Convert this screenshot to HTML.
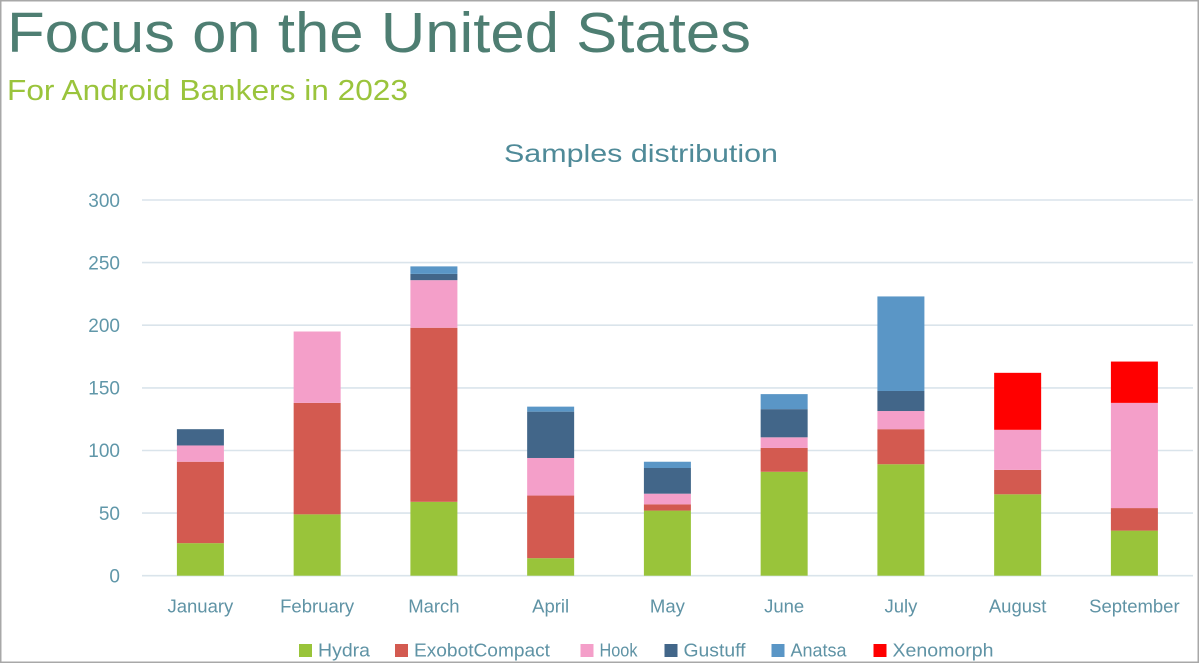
<!DOCTYPE html>
<html>
<head>
<meta charset="utf-8">
<style>
html,body{margin:0;padding:0;background:#fff;}
body{width:1200px;height:664px;overflow:hidden;position:relative;}
svg{display:block;}
</style>
</head>
<body>
<svg width="1200" height="664" viewBox="0 0 1200 664" xmlns="http://www.w3.org/2000/svg" font-family="Liberation Sans, DejaVu Sans, sans-serif">
  <rect x="0" y="0" width="1200" height="664" fill="#fff"/>
  <!-- border -->
  <rect x="0.75" y="0.75" width="1197.5" height="661.5" fill="none" stroke="#a8a8a8" stroke-width="1.5"/>

  <!-- titles -->
  <text x="7" y="52" font-size="57" fill="#4e7e72" textLength="744" lengthAdjust="spacingAndGlyphs">Focus on the United States</text>
  <text x="7" y="100" font-size="29" fill="#9ac43c" textLength="401" lengthAdjust="spacingAndGlyphs">For Android Bankers in 2023</text>
  <text x="641" y="162" font-size="25" fill="#4f8a98" text-anchor="middle" textLength="274" lengthAdjust="spacingAndGlyphs">Samples distribution</text>

  <!-- gridlines -->
  <g stroke="#dae4eb" stroke-width="1.6">
    <line x1="142" y1="200" x2="1193" y2="200"/>
    <line x1="142" y1="262.6" x2="1193" y2="262.6"/>
    <line x1="142" y1="325.2" x2="1193" y2="325.2"/>
    <line x1="142" y1="387.9" x2="1193" y2="387.9"/>
    <line x1="142" y1="450.5" x2="1193" y2="450.5"/>
    <line x1="142" y1="513.1" x2="1193" y2="513.1"/>
    <line x1="142" y1="575.7" x2="1193" y2="575.7"/>
  </g>

  <!-- y labels -->
  <g font-size="19" fill="#6097a9" text-anchor="end">
    <text x="120" y="206.8">300</text>
    <text x="120" y="269.3">250</text>
    <text x="120" y="331.8">200</text>
    <text x="120" y="394.6">150</text>
    <text x="120" y="457.2">100</text>
    <text x="120" y="519.8">50</text>
    <text x="120" y="582.3">0</text>
  </g>

  <!-- bars -->
  <g transform="translate(0,575.7) scale(1,-1.2523)">
    <!-- January -->
    <rect x="176.9" y="0" width="47" height="26" fill="#99c43a"/>
    <rect x="176.9" y="26" width="47" height="65" fill="#d35a50"/>
    <rect x="176.9" y="91" width="47" height="13" fill="#f49fc9"/>
    <rect x="176.9" y="104" width="47" height="13" fill="#426689"/>
    <!-- February -->
    <rect x="293.65" y="0" width="47" height="49" fill="#99c43a"/>
    <rect x="293.65" y="49" width="47" height="89" fill="#d35a50"/>
    <rect x="293.65" y="138" width="47" height="57" fill="#f49fc9"/>
    <!-- March -->
    <rect x="410.4" y="0" width="47" height="59" fill="#99c43a"/>
    <rect x="410.4" y="59" width="47" height="139" fill="#d35a50"/>
    <rect x="410.4" y="198" width="47" height="38" fill="#f49fc9"/>
    <rect x="410.4" y="236" width="47" height="5" fill="#426689"/>
    <rect x="410.4" y="241" width="47" height="6" fill="#5a96c6"/>
    <!-- April -->
    <rect x="527.15" y="0" width="47" height="14" fill="#99c43a"/>
    <rect x="527.15" y="14" width="47" height="50" fill="#d35a50"/>
    <rect x="527.15" y="64" width="47" height="30" fill="#f49fc9"/>
    <rect x="527.15" y="94" width="47" height="37" fill="#426689"/>
    <rect x="527.15" y="131" width="47" height="4" fill="#5a96c6"/>
    <!-- May -->
    <rect x="643.9" y="0" width="47" height="52" fill="#99c43a"/>
    <rect x="643.9" y="52" width="47" height="5" fill="#d35a50"/>
    <rect x="643.9" y="57" width="47" height="8.5" fill="#f49fc9"/>
    <rect x="643.9" y="65.5" width="47" height="20.5" fill="#426689"/>
    <rect x="643.9" y="86" width="47" height="5" fill="#5a96c6"/>
    <!-- June -->
    <rect x="760.65" y="0" width="47" height="83" fill="#99c43a"/>
    <rect x="760.65" y="83" width="47" height="19" fill="#d35a50"/>
    <rect x="760.65" y="102" width="47" height="8.5" fill="#f49fc9"/>
    <rect x="760.65" y="110.5" width="47" height="22.5" fill="#426689"/>
    <rect x="760.65" y="133" width="47" height="12" fill="#5a96c6"/>
    <!-- July -->
    <rect x="877.4" y="0" width="47" height="89" fill="#99c43a"/>
    <rect x="877.4" y="89" width="47" height="28" fill="#d35a50"/>
    <rect x="877.4" y="117" width="47" height="14.5" fill="#f49fc9"/>
    <rect x="877.4" y="131.5" width="47" height="16" fill="#426689"/>
    <rect x="877.4" y="147.5" width="47" height="75.5" fill="#5a96c6"/>
    <!-- August -->
    <rect x="994.15" y="0" width="47" height="65" fill="#99c43a"/>
    <rect x="994.15" y="65" width="47" height="19.5" fill="#d35a50"/>
    <rect x="994.15" y="84.5" width="47" height="32" fill="#f49fc9"/>
    <rect x="994.15" y="116.5" width="47" height="45.5" fill="#ff0000"/>
    <!-- September -->
    <rect x="1110.9" y="0" width="47" height="36" fill="#99c43a"/>
    <rect x="1110.9" y="36" width="47" height="18" fill="#d35a50"/>
    <rect x="1110.9" y="54" width="47" height="84" fill="#f49fc9"/>
    <rect x="1110.9" y="138" width="47" height="33" fill="#ff0000"/>
  </g>

  <!-- x labels -->
  <g font-size="18.5" fill="#5f93a5" text-anchor="middle">
    <text x="200.4" y="612.5">January</text>
    <text x="317.15" y="612.5">February</text>
    <text x="433.9" y="612.5">March</text>
    <text x="550.65" y="612.5">April</text>
    <text x="667.4" y="612.5">May</text>
    <text x="784.15" y="612.5">June</text>
    <text x="900.9" y="612.5">July</text>
    <text x="1017.65" y="612.5">August</text>
    <text x="1134.4" y="612.5">September</text>
  </g>

  <!-- legend -->
  <g font-size="18" fill="#5f93a5">
    <rect x="299" y="644" width="13" height="13" fill="#99c43a"/>
    <text x="318" y="656.5" textLength="52" lengthAdjust="spacingAndGlyphs">Hydra</text>
    <rect x="395" y="644" width="13" height="13" fill="#d35a50"/>
    <text x="414" y="656.5" textLength="136" lengthAdjust="spacingAndGlyphs">ExobotCompact</text>
    <rect x="580.5" y="644" width="13" height="13" fill="#f49fc9"/>
    <text x="599.5" y="656.5" textLength="38" lengthAdjust="spacingAndGlyphs">Hook</text>
    <rect x="664.5" y="644" width="13" height="13" fill="#426689"/>
    <text x="683.5" y="656.5" textLength="62" lengthAdjust="spacingAndGlyphs">Gustuff</text>
    <rect x="771.5" y="644" width="13" height="13" fill="#5a96c6"/>
    <text x="790.5" y="656.5" textLength="56" lengthAdjust="spacingAndGlyphs">Anatsa</text>
    <rect x="873.5" y="644" width="13" height="13" fill="#ff0000"/>
    <text x="892.5" y="656.5" textLength="101" lengthAdjust="spacingAndGlyphs">Xenomorph</text>
  </g>
</svg>
</body>
</html>
